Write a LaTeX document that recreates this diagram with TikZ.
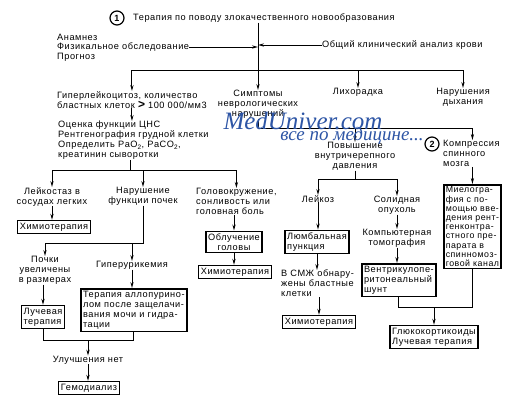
\documentclass[tikz,border=0pt]{standalone}
\usepackage{fontspec}
\setmainfont{Liberation Sans}[LetterSpace=6]
\newfontfamily\wmfont{Liberation Serif}
\usetikzlibrary{arrows.meta,calc}
\definecolor{wmblue}{RGB}{45,85,165}
\begin{document}
\begin{tikzpicture}[x=1pt,y=-1pt,
  txt/.style={font=\fontsize{9.2}{10}\selectfont, inner sep=0pt, align=center},
  ltxt/.style={txt, align=left},
  box/.style={draw, line width=1.5pt, font=\fontsize{9.2}{10}\selectfont, inner sep=2.3pt, align=left},
  arr/.style={-{Stealth[length=6pt,width=3.2pt]}, line width=1pt},
  ln/.style={line width=1pt},
  num/.style={circle, draw, line width=1.2pt, minimum size=14pt, inner sep=0pt, font=\bfseries\fontsize{9}{9}\selectfont}]
\useasboundingbox (0,0) rectangle (512,400);

% header
\node[num] (c1) at (117,18) {1};
\node[txt, anchor=west] (title) at (133,18) {Терапия по поводу злокачественного новообразования};
\node[ltxt, anchor=west] (anam) at (57,37) {Анамнез};
\node[ltxt, anchor=west] (fiz) at (57,47) {Физикальное обследование};
\node[ltxt, anchor=west] (prog) at (57,57) {Прогноз};
\node[ltxt, anchor=west] (blood) at (322,45) {Общий клинический анализ крови};

% first level
\node[ltxt, anchor=north west] (giper) at (57,91) {Гиперлейкоцитоз, количество\\бластных клеток {\bfseries\large >} 100 000/мм3};
\node[txt, anchor=north] (symp) at (258,90) {Симптомы\\неврологических\\нарушений};
\node[txt, anchor=north] (fever) at (358,88) {Лихорадка};
\node[txt, anchor=north] (dysp) at (463,88) {Нарушения\\дыхания};

\coordinate (j1) at (0,70);
\draw[arr] (title.south -| symp.north) -- (symp.north);
\draw[arr] (fiz.east) -- (fiz.east -| symp.north);
\draw[arr] (blood.west) -- (blood.west -| symp.north);
\draw[ln] (giper.north |- j1) -- (dysp.north |- j1);
\draw[arr] (giper.north |- j1) -- (giper.north);
\draw[arr] (fever.north |- j1) -- (fever.north);
\draw[arr] (dysp.north |- j1) -- (dysp.north);

% left branch
\node[ltxt, anchor=north west] (ocen) at (58,121) {Оценка функции ЦНС\\Рентгенография грудной клетки\\Определить PaO\textsubscript{2}, PaCO\textsubscript{2},\\креатинин сыворотки};
\draw[arr] (giper.south) -- (giper.south |- ocen.north);
\coordinate (j2) at (130,170);
\draw[ln] (j2 |- ocen.south) -- (j2);

\node[txt, anchor=north] (leuk) at (52,187) {Лейкостаз в\\сосудах легких};
\node[txt, anchor=north] (kid) at (143,187) {Нарушение\\функции почек};
\node[ltxt, anchor=north west] (head) at (196,188) {Головокружение,\\сонливость или\\головная боль};
\draw[ln] (leuk.north |- j2) -- (head.north |- j2);
\draw[arr] (leuk.north |- j2) -- (leuk.north);
\draw[arr] (kid.north |- j2) -- (kid.north);
\draw[arr] (head.north |- j2) -- (head.north);

\node[box] (chemo1) at (54,227) {Химиотерапия};
\draw[arr] (leuk.south) -- (leuk.south |- chemo1.north);

\node[txt, anchor=north] (kidbig) at (45,256) {Почки\\увеличены\\в размерах};
\node[txt, anchor=north] (hyper) at (132,261) {Гиперурикемия};
\coordinate (j3) at (0,243);
\draw[ln] (kid.south) -- (kid.south |- j3) -- (kidbig.north |- j3);
\draw[arr] (kidbig.north |- j3) -- (kidbig.north);
\draw[arr] (hyper.north |- j3) -- (hyper.north);

\node[box, align=left] (ray1) at (43,317) {Лучевая\\терапия};
\node[box, anchor=north west] (allo) at (80,288) {Терапия аллопурино-\\лом после защелачи-\\вания мочи и гидра-\\тации};
\draw[arr] (kidbig.south -| ray1.north) -- (ray1.north);
\draw[arr] (hyper.south) -- (hyper.south |- allo.north);

\coordinate (j4) at (0,340);
\node[txt] (nob) at (88,360) {Улучшения нет};
\node[box] (dial) at (89,388) {Гемодиализ};
\draw[ln] (ray1.south) -- (ray1.south |- j4) -- (allo.south |- j4) -- (allo.south);
\draw[arr] (nob.north |- j4) -- (nob.north);
\draw[arr] (nob.south) -- (nob.south |- dial.north);

% head branch
\node[box, align=center] (irr) at (234,242) {Облучение\\головы};
\node[box] (chemo2) at (235,272) {Химиотерапия};
\draw[arr] (head.south -| irr.north) -- (irr.north);
\draw[arr] (irr.south) -- (irr.south |- chemo2.north);

% right branch
\coordinate (j5) at (0,128);
\node[txt, anchor=north] (icp) at (355,142) {Повышение\\внутричерепного\\давления};
\node[num] (c2) at (432,144) {2};
\node[ltxt, anchor=north west] (comp) at (443,140) {Компрессия\\спинного\\мозга};
\node[box, anchor=north west, inner sep=2pt, font=\fontsize{8.8}{9.2}\selectfont] (myelo) at (443,184) {Миелогра-\\фия с по-\\мощью вве-\\дения рент-\\генконтра-\\стного пре-\\парата в\\спинномоз-\\говой канал};
\draw[ln] (symp.south) -- (symp.south |- j5) -- (myelo.north |- j5);
\draw[arr] (icp.north |- j5) -- (icp.north);
\draw[arr] (myelo.north |- j5) -- (myelo.north |- comp.north);
\draw[arr] (myelo.north |- comp.south) -- (myelo.north);

\coordinate (j6) at (0,179);
\node[txt, anchor=north] (leuk2) at (318,195) {Лейкоз};
\node[txt, anchor=north] (solid) at (397,196) {Солидная\\опухоль};
\draw[ln] (icp.south) -- (icp.south |- j6);
\draw[ln] (leuk2.north |- j6) -- (solid.north |- j6);
\draw[arr] (leuk2.north |- j6) -- (leuk2.north);
\draw[arr] (solid.north |- j6) -- (solid.north);

\node[box] (lumb) at (317,242) {Люмбальная\\пункция};
\node[ltxt, anchor=north west] (csf) at (281,270) {В СМЖ обнару-\\жены бластные\\клетки};
\node[box] (chemo3) at (319,322) {Химиотерапия};
\draw[arr] (leuk2.south) -- (leuk2.south |- lumb.north);
\draw[arr] (lumb.south) -- (lumb.south |- csf.north);
\draw[arr] (csf.south -| chemo3.north) -- (chemo3.north);

\node[txt, anchor=north] (ct) at (397,229) {Компьютерная\\томография};
\node[box, anchor=north west] (shunt) at (361,263) {Вентрикулопе-\\ритонеальный\\шунт};
\draw[arr] (solid.south) -- (solid.south |- ct.north);
\draw[arr] (ct.south) -- (ct.south |- shunt.north);

\coordinate (j7) at (0,307);
\node[box] (gluco) at (434,337) {Глюкокортикоиды\\Лучевая терапия};
\draw[ln] (shunt.south) -- (shunt.south |- j7) -- (myelo.south |- j7) -- (myelo.south);
\draw[arr] (gluco.north |- j7) -- (gluco.north);

% watermark
\node[font=\wmfont\itshape\fontsize{25}{25}\selectfont, text=wmblue, inner sep=0pt] (wm1) at (303,121) {MedUniver.com};
\node[font=\wmfont\itshape\fontsize{19}{19}\selectfont, text=wmblue, inner sep=0pt] (wm2) at (352,136) {все по медицине...};
\end{tikzpicture}
\end{document}
